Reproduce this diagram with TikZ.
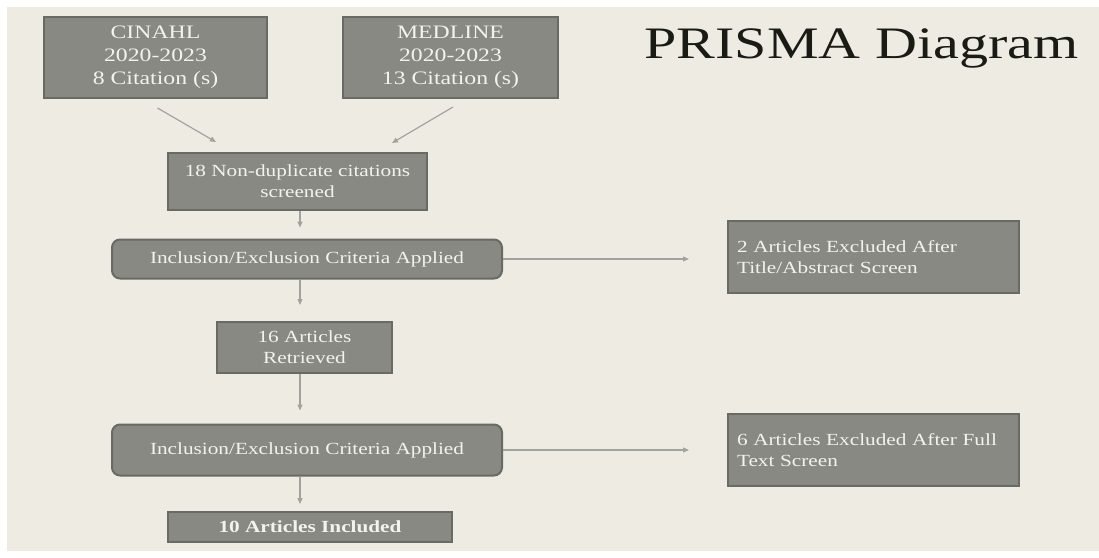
\documentclass[tikz,border=0pt]{standalone}
\usepackage{fontspec}
\setmainfont{Liberation Serif}[FakeStretch=1.25]
\newfontfamily\titlefont{Liberation Serif}[FakeStretch=1.29]
\usetikzlibrary{arrows.meta, positioning, calc}
\definecolor{slidebg}{RGB}{238,235,227}
\definecolor{boxfill}{RGB}{137,137,131}
\definecolor{boxedge}{RGB}{105,106,100}
\definecolor{boxtext}{RGB}{243,242,237}
\definecolor{flowgray}{RGB}{163,163,157}
\definecolor{titleink}{RGB}{25,27,20}

\tikzset{
    box/.style={draw=boxedge, fill=boxfill, line width=2pt, text=boxtext,
        align=center, inner sep=0pt, font=\fontsize{17}{21}\selectfont},
    srcbox/.style={box, font=\fontsize{19}{23}\selectfont},
    critbox/.style={box, rounded corners=8pt},
    exclbox/.style={box, align=left, text width=273pt, inner xsep=9pt},
    flow/.style={draw=flowgray, line width=1.2pt, -{Triangle[length=6pt,width=5pt]}}
}

\begin{document}
\begin{tikzpicture}[x=1pt, y=-1pt]
    % Slide background
    \useasboundingbox (0,0) rectangle (1099,557);
    \fill[white] (0,0) rectangle (1099,557);
    \fill[slidebg] (7,7) rectangle (1099,551);

    % Title
    \node[anchor=base, text=titleink, inner sep=0pt,
        font=\titlefont\fontsize{45}{50}\selectfont] (title) at (861.5,58) {PRISMA Diagram};

    % Sources
    \node[srcbox, minimum width=223pt, minimum height=81pt] (cinahl) at (155.5,57.5)
        {CINAHL\\2020-2023\\8 Citation (s)};
    \node[srcbox, minimum width=215pt, minimum height=81pt] (medline) at (450.5,57.5)
        {MEDLINE\\2020-2023\\13 Citation (s)};

    % Screening
    \node[box, minimum width=259pt, minimum height=57pt] (nondup) at (297.5,181.5)
        {18 Non-duplicate citations\\screened};
    \node[critbox, minimum width=390pt, minimum height=39pt] (crit1) at (307,259)
        {Inclusion/Exclusion Criteria Applied};
    \node[exclbox, minimum height=72pt] (excl1) at (873.5,257)
        {2 Articles Excluded After\\Title/Abstract Screen};

    % Full text
    \node[box, minimum width=175pt, minimum height=51pt] (retrieved) at (304.5,347.5)
        {16 Articles\\Retrieved};
    \node[critbox, minimum width=390pt, minimum height=51pt] (crit2) at (307,450)
        {Inclusion/Exclusion Criteria Applied};
    \node[exclbox, minimum height=72pt] (excl2) at (873.5,450)
        {6 Articles Excluded After Full\\Text Screen};

    % Result
    \node[box, minimum width=284pt, minimum height=30pt] (included) at (310,527)
        {\textbf{10 Articles Included}};

    % Arrows
    \coordinate (spine) at (300,0);
    \draw[flow] ([shift={(2,9)}]cinahl.south) -- ([shift={(49,-10)}]nondup.north west);
    \draw[flow] ([shift={(2.5,8)}]medline.south) -- ([shift={(225,-9)}]nondup.north west);
    \draw[flow, shorten >=11pt] (nondup.south -| spine) -- (crit1.north -| spine);
    \draw[flow, shorten >=16pt] (crit1.south -| spine) -- (retrieved.north -| spine);
    \draw[flow, shorten >=13pt] (retrieved.south -| spine) -- (crit2.north -| spine);
    \draw[flow, shorten >=7pt] (crit2.south -| spine) -- (included.north -| spine);
    \draw[flow, shorten >=38pt] (crit1.east) -- (crit1.east -| excl1.west);
    \draw[flow, shorten >=38pt] (crit2.east) -- (crit2.east -| excl2.west);
\end{tikzpicture}
\end{document}
